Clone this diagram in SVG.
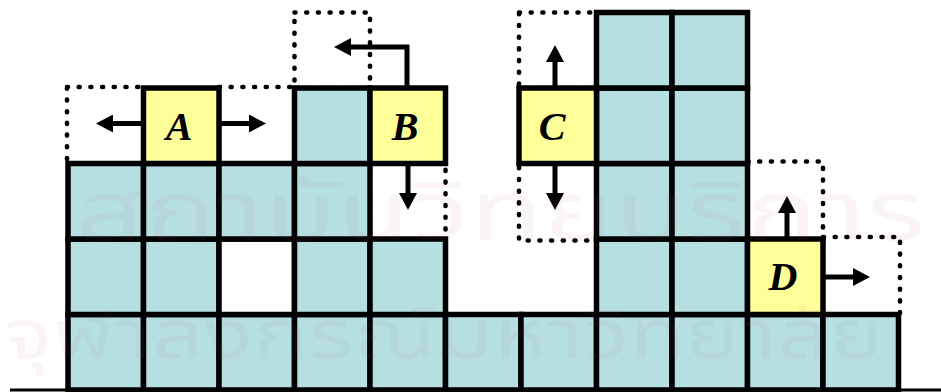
<svg xmlns="http://www.w3.org/2000/svg" width="941" height="392" viewBox="0 0 941 392">
  <style>
    .cell { fill: #B6DFE1; stroke: #000; stroke-width: 5.5; }
    .empty { fill: #FFFFFF; stroke: #000; stroke-width: 5.5; }
    .piece { fill: #FFFF99; stroke: #000; stroke-width: 5.5; }
    .slot { fill: none; stroke: #000; stroke-width: 4.6; stroke-dasharray: 1 10.7; stroke-linecap: round; }
    .arrow { fill: none; stroke: #000; stroke-width: 5; marker-end: url(#head); }
    .label { font-family: "Liberation Serif", "Times New Roman", serif; font-size: 40px; font-weight: bold; font-style: italic; text-anchor: middle; fill: #000; }
    .mark { font-family: "Noto Sans Thai", "Noto Sans", sans-serif; fill: #B05A7A; opacity: 0.06; }
  </style>
  <defs>
    <marker id="head" viewBox="0 0 17 18" refX="0" refY="9" markerWidth="17" markerHeight="18" markerUnits="userSpaceOnUse" orient="auto">
      <path d="M0,0 L17,9 L0,18 Z" fill="#000"/>
    </marker>
  </defs>

  <rect width="941" height="392" fill="#FFFFFF"/>

  <!-- target positions (dotted) -->
  <g id="slots">
    <rect class="slot" x="67" y="87" width="76.5" height="76.5"/>
    <rect class="slot" x="219" y="87" width="75.5" height="76.5"/>
    <rect class="slot" x="294.5" y="12.5" width="75.5" height="75.5"/>
    <rect class="slot" x="370" y="163.5" width="75.5" height="75.5"/>
    <rect class="slot" x="519" y="12.5" width="77.5" height="75.5"/>
    <rect class="slot" x="519" y="163.5" width="77.5" height="77"/>
    <rect class="slot" x="747.5" y="161.5" width="75.5" height="77.5"/>
    <rect class="slot" x="823" y="237" width="77" height="77.5"/>
  </g>

  <!-- bottom row -->
  <g id="row4">
    <rect class="cell" x="68" y="314.5" width="75.5" height="75.5"/>
    <rect class="cell" x="143.5" y="314.5" width="75.5" height="75.5"/>
    <rect class="cell" x="219" y="314.5" width="75.5" height="75.5"/>
    <rect class="cell" x="294.5" y="314.5" width="75.5" height="75.5"/>
    <rect class="cell" x="370" y="314.5" width="75.5" height="75.5"/>
    <rect class="cell" x="445.5" y="314.5" width="75.5" height="75.5"/>
    <rect class="cell" x="521" y="314.5" width="75.5" height="75.5"/>
    <rect class="cell" x="596.5" y="314.5" width="75.5" height="75.5"/>
    <rect class="cell" x="672" y="314.5" width="75.5" height="75.5"/>
    <rect class="cell" x="747.5" y="314.5" width="75.5" height="75.5"/>
    <rect class="cell" x="823" y="314.5" width="75.5" height="75.5"/>
  </g>

  <g id="row3">
    <rect class="cell" x="68" y="239" width="75.5" height="75.5"/>
    <rect class="cell" x="143.5" y="239" width="75.5" height="75.5"/>
    <rect class="empty" x="219" y="239" width="75.5" height="75.5"/>
    <rect class="cell" x="294.5" y="239" width="75.5" height="75.5"/>
    <rect class="cell" x="370" y="239" width="75.5" height="75.5"/>
    <rect class="cell" x="596.5" y="239" width="75.5" height="75.5"/>
    <rect class="cell" x="672" y="239" width="75.5" height="75.5"/>
  </g>

  <g id="row2">
    <rect class="cell" x="68" y="163.5" width="75.5" height="75.5"/>
    <rect class="cell" x="143.5" y="163.5" width="75.5" height="75.5"/>
    <rect class="cell" x="219" y="163.5" width="75.5" height="75.5"/>
    <rect class="cell" x="294.5" y="163.5" width="75.5" height="75.5"/>
    <rect class="cell" x="596.5" y="163.5" width="75.5" height="75.5"/>
    <rect class="cell" x="672" y="163.5" width="75.5" height="75.5"/>
  </g>

  <g id="row1">
    <rect class="cell" x="294.5" y="88" width="75.5" height="75.5"/>
    <rect class="cell" x="596.5" y="88" width="75.5" height="75.5"/>
    <rect class="cell" x="672" y="88" width="75.5" height="75.5"/>
  </g>

  <g id="row0">
    <rect class="cell" x="596.5" y="12.5" width="75.5" height="75.5"/>
    <rect class="cell" x="672" y="12.5" width="75.5" height="75.5"/>
  </g>

  <!-- movable pieces -->
  <g id="piece-A">
    <rect class="piece" x="143.5" y="88" width="75.5" height="75.5"/>
    <text class="label" x="179" y="140">A</text>
  </g>
  <g id="piece-B">
    <rect class="piece" x="370" y="88" width="75.5" height="75.5"/>
    <text class="label" x="405" y="140">B</text>
  </g>
  <g id="piece-C">
    <rect class="piece" x="519" y="88" width="77.5" height="75.5"/>
    <text class="label" x="552" y="140">C</text>
  </g>
  <g id="piece-D">
    <rect class="piece" x="747.5" y="239" width="75.5" height="75.5"/>
    <text class="label" x="783" y="290">D</text>
  </g>

  <!-- moves -->
  <g id="connectors">
    <path class="arrow" d="M143.5,123.5 H113"/>
    <path class="arrow" d="M219,123.5 H249"/>
    <path class="arrow" d="M407,88 V47 H351"/>
    <path class="arrow" d="M408,163.5 V193"/>
    <path class="arrow" d="M555,88 V62"/>
    <path class="arrow" d="M555,163.5 V193"/>
    <path class="arrow" d="M787,239 V213"/>
    <path class="arrow" d="M823,277 H853"/>
  </g>

  <!-- ground line -->
  <line x1="10" y1="390" x2="941" y2="390" stroke="#000" stroke-width="3"/>

  <!-- library watermark -->
  <g id="watermark">
    <text class="mark" x="75" y="240" font-size="82" textLength="850" lengthAdjust="spacingAndGlyphs">สถาบันวิทยบริการ</text>
    <text class="mark" x="4" y="358" font-size="68" textLength="880" lengthAdjust="spacingAndGlyphs">จุฬาลงกรณ์มหาวิทยาลัย</text>
  </g>
</svg>
